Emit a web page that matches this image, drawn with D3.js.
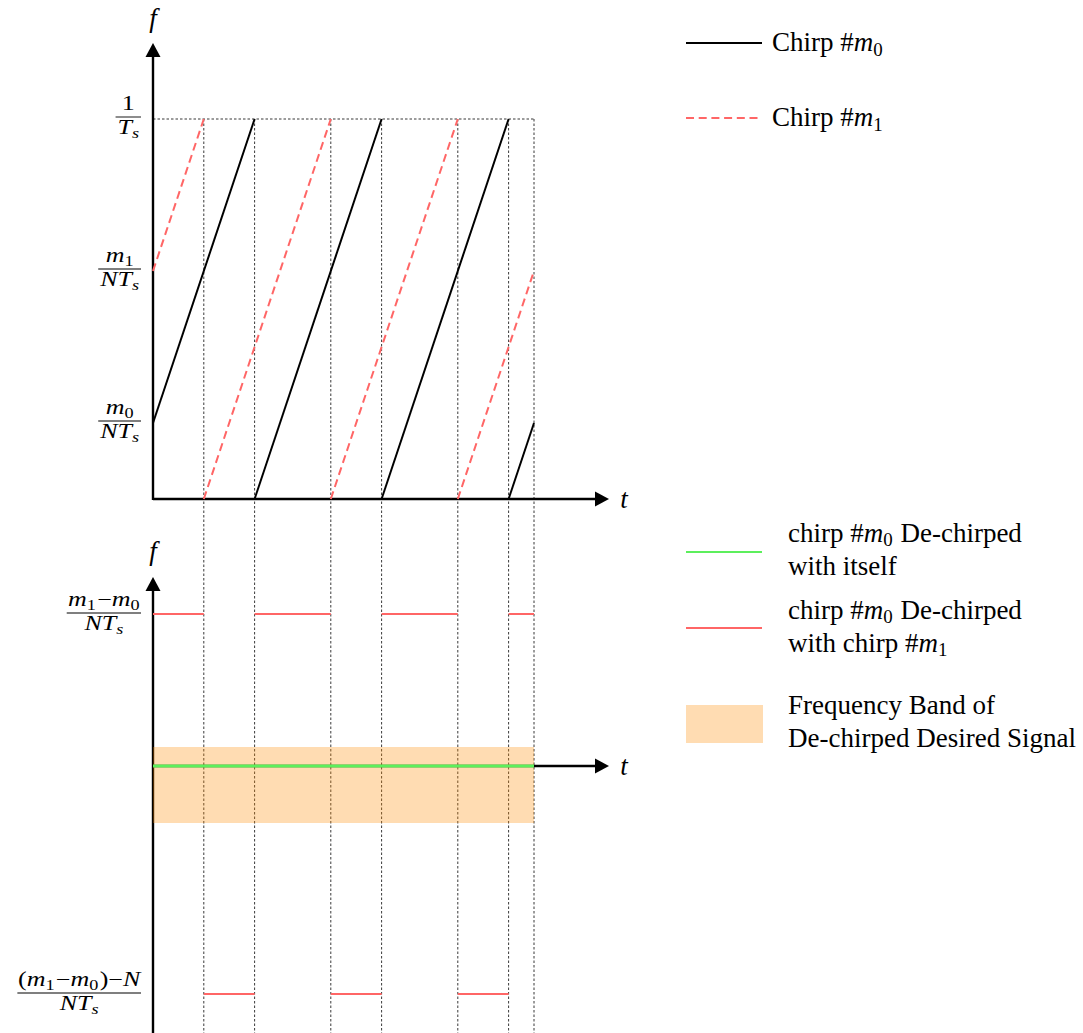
<!DOCTYPE html>
<html>
<head>
<meta charset="utf-8">
<script src="https://cdn.jsdelivr.net/npm/d3@7"></script>
<style>
  html, body { margin: 0; padding: 0; background: #fff; }
  svg { display: block; }
</style>
</head>
<body>
<svg id="chart" width="1083" height="1033"></svg>
<script>
// ---------------- DATA ----------------
// time in chirp periods, frequency normalised to 1/Ts
const tDomain = [0, 3];
const chirpM0Segments = [
  [[0, 0.2], [0.8, 1]],
  [[0.8, 0], [1.8, 1]],
  [[1.8, 0], [2.8, 1]],
  [[2.8, 0], [3, 0.2]]
];
const chirpM1Segments = [
  [[0, 0.6], [0.4, 1]],
  [[0.4, 0], [1.4, 1]],
  [[1.4, 0], [2.4, 1]],
  [[2.4, 0], [3, 0.6]]
];
const boundaryTimes = [0.4, 0.8, 1.4, 1.8, 2.4, 2.8, 3];
const dechirpSelf = [[0, 0], [3, 0]];
const dechirpCrossHigh = [[0, 0.4], [0.8, 1.4], [1.8, 2.4], [2.8, 3]]; // f = (m1-m0)/N
const dechirpCrossLow  = [[0.4, 0.8], [1.4, 1.8], [2.4, 2.8]];          // f = ((m1-m0)-N)/N
const crossHighValue = 0.4;
const crossLowValue = -0.6;
const bandRange = [-0.15, 0.05];

const topTicks = [
  { v: 1,   num: [{t: "1"}], den: [{t: "T", i: true}, {t: "s", i: true, sub: true}] },
  { v: 0.6, num: [{t: "m", i: true}, {t: "1", sub: true}], den: [{t: "NT", i: true}, {t: "s", i: true, sub: true}] },
  { v: 0.2, num: [{t: "m", i: true}, {t: "0", sub: true}], den: [{t: "NT", i: true}, {t: "s", i: true, sub: true}] }
];
const bottomTicks = [
  { v: 0.4, num: [{t: "m", i: true}, {t: "1", sub: true}, {t: "−"}, {t: "m", i: true}, {t: "0", sub: true}],
            den: [{t: "NT", i: true}, {t: "s", i: true, sub: true}] },
  { v: -0.6, num: [{t: "("}, {t: "m", i: true}, {t: "1", sub: true}, {t: "−"}, {t: "m", i: true}, {t: "0", sub: true}, {t: ")−"}, {t: "N", i: true}],
            den: [{t: "NT", i: true}, {t: "s", i: true, sub: true}] }
];
const legendTop = [
  { type: "solid",  lines: [[{t: "Chirp #"}, {t: "m", i: true}, {t: "0", sub: true}]] },
  { type: "dashed", lines: [[{t: "Chirp #"}, {t: "m", i: true}, {t: "1", sub: true}]] }
];
const legendBottom = [
  { type: "green", lines: [[{t: "chirp #"}, {t: "m", i: true}, {t: "0", sub: true}, {t: " De-chirped"}], [{t: "with itself"}]] },
  { type: "red",   lines: [[{t: "chirp #"}, {t: "m", i: true}, {t: "0", sub: true}, {t: " De-chirped"}], [{t: "with chirp #"}, {t: "m", i: true}, {t: "1", sub: true}]] },
  { type: "band",  lines: [[{t: "Frequency Band of"}], [{t: "De-chirped Desired Signal"}]] }
];

// ---------------- STYLE ----------------
const SERIF = "'Liberation Serif', 'Times New Roman', serif";
const RED = "#ff6666";
const GREEN = "#5cef5c";
const BAND = "rgb(255,140,0)";

const svg = d3.select("#chart");

const x = d3.scaleLinear().domain(tDomain).range([153, 534]);
const yTop = d3.scaleLinear().domain([0, 1]).range([499, 119]);
const yBot = d3.scaleLinear().domain([-0.6, 0.4]).range([994, 614]);

// multi-line rich text in a single <text> element
function richLines(g, xx, yy, lines, fs, anchor, subDrop, lineGap) {
  const t = g.append("text")
    .attr("x", xx).attr("y", yy)
    .attr("font-family", SERIF)
    .attr("font-size", fs)
    .attr("text-anchor", anchor || "start")
    .attr("fill", "#000");
  let shift = 0;
  const drop = subDrop == null ? 0.2 : subDrop;
  lines.forEach((parts, li) => {
    let prevSub = false;
    parts.forEach((p, pi) => {
      const ts = t.append("tspan").text(p.t);
      if (p.i) ts.attr("font-style", "italic");
      const target = p.sub ? fs * drop : 0;
      let dy = target - shift;
      if (li > 0 && pi === 0) { ts.attr("x", xx); dy += lineGap; }
      if (dy !== 0) ts.attr("dy", dy);
      shift = target;
      if (p.sub) ts.attr("font-size", fs * 0.7);
      if (prevSub && !p.sub) ts.attr("dx", 1);
      prevSub = !!p.sub;
    });
  });
  return t;
}
function rich(g, xx, yy, parts, fs, anchor, subDrop) {
  return richLines(g, xx, yy, [parts], fs, anchor, subDrop, 0);
}

// fraction drawn in a group stretched horizontally (math glyphs are wider than Times)
function fraction(g, rightX, barY, num, den, fs, sx) {
  const fg = g.append("g").attr("transform", `translate(${rightX},0) scale(${sx},1)`);
  const n = rich(fg, 0, barY - 7, num, fs, "middle", 0.2);
  const d = rich(fg, 0, barY + 17, den, fs, "middle", 0.22);
  const w = Math.max(n.node().getComputedTextLength(), d.node().getComputedTextLength()) + 3;
  const cx = -w / 2;
  n.attr("x", cx);
  d.attr("x", cx);
  fg.append("line")
    .attr("x1", -w).attr("x2", 0)
    .attr("y1", barY).attr("y2", barY)
    .attr("stroke", "#000").attr("stroke-width", 0.9);
}

function arrowHead(g, tipX, tipY, dir) {
  const L = 14, H = 7.5;
  let pts;
  if (dir === "up") pts = [[tipX, tipY], [tipX - H, tipY + L], [tipX + H, tipY + L]];
  else pts = [[tipX, tipY], [tipX - L, tipY - H], [tipX - L, tipY + H]];
  g.append("path").attr("d", d3.line()(pts) + "Z").attr("fill", "#000");
}

// ---------- guide lines (dotted) ----------
const guides = svg.append("g");
guides.selectAll("line.v").data(boundaryTimes).join("line")
  .attr("class", "v")
  .attr("x1", d => x(d)).attr("x2", d => x(d))
  .attr("y1", yTop(1)).attr("y2", 1033)
  .attr("stroke", "#222").attr("stroke-width", 0.9)
  .attr("stroke-dasharray", "2.5,2");
guides.append("line")
  .attr("x1", x(0)).attr("x2", x(3))
  .attr("y1", yTop(1)).attr("y2", yTop(1))
  .attr("stroke", "#222").attr("stroke-width", 0.9)
  .attr("stroke-dasharray", "2.5,2");

// ---------- axes ----------
const axes = svg.append("g");
// top panel
axes.append("line").attr("x1", x(0)).attr("x2", x(0)).attr("y1", yTop(0) + 1).attr("y2", 57)
  .attr("stroke", "#000").attr("stroke-width", 2.4);
arrowHead(axes, x(0), 43, "up");
axes.append("line").attr("x1", x(0)).attr("x2", 596).attr("y1", yTop(0)).attr("y2", yTop(0))
  .attr("stroke", "#000").attr("stroke-width", 2.4);
arrowHead(axes, 609, yTop(0), "right");
// bottom panel
axes.append("line").attr("x1", x(0)).attr("x2", x(0)).attr("y1", 1033).attr("y2", 591)
  .attr("stroke", "#000").attr("stroke-width", 2.4);
arrowHead(axes, x(0), 577, "up");
axes.append("line").attr("x1", x(0)).attr("x2", 596).attr("y1", yBot(0)).attr("y2", yBot(0))
  .attr("stroke", "#000").attr("stroke-width", 2.4);
arrowHead(axes, 609, yBot(0), "right");

// axis labels
rich(axes, x(0), 27, [{t: "f", i: true}], 27, "middle");
rich(axes, x(0), 560, [{t: "f", i: true}], 27, "middle");
rich(axes, 624, 508, [{t: "t", i: true}], 27, "middle");
rich(axes, 624, yBot(0) + 9, [{t: "t", i: true}], 27, "middle");

// tick labels
const tl = svg.append("g");
topTicks.forEach(tk => fraction(tl, 141, yTop(tk.v) - 2, tk.num, tk.den, 20, 1.3));
bottomTicks.forEach(tk => fraction(tl, 141, yBot(tk.v) - 1, tk.num, tk.den, 20, 1.3));

// ---------- band ----------
svg.append("rect")
  .attr("x", x(0)).attr("width", x(3) - x(0))
  .attr("y", yBot(bandRange[1])).attr("height", yBot(bandRange[0]) - yBot(bandRange[1]))
  .attr("fill", BAND).attr("fill-opacity", 0.3);

// ---------- chirps ----------
const lineTop = d3.line().x(d => x(d[0])).y(d => yTop(d[1]));
svg.append("g").selectAll("path").data(chirpM1Segments).join("path")
  .attr("d", lineTop).attr("fill", "none")
  .attr("stroke", RED).attr("stroke-width", 2).attr("stroke-dasharray", "8,4.7");
svg.append("g").selectAll("path").data(chirpM0Segments).join("path")
  .attr("d", lineTop).attr("fill", "none")
  .attr("stroke", "#000").attr("stroke-width", 2);

// ---------- de-chirped ----------
const dg = svg.append("g");
dg.append("line")
  .attr("x1", x(dechirpSelf[0][0])).attr("x2", x(dechirpSelf[1][0]))
  .attr("y1", yBot(dechirpSelf[0][1])).attr("y2", yBot(dechirpSelf[1][1]))
  .attr("stroke", GREEN).attr("stroke-width", 3);
dg.selectAll("line.hi").data(dechirpCrossHigh).join("line").attr("class", "hi")
  .attr("x1", d => x(d[0])).attr("x2", d => x(d[1]))
  .attr("y1", yBot(crossHighValue)).attr("y2", yBot(crossHighValue))
  .attr("stroke", RED).attr("stroke-width", 2);
dg.selectAll("line.lo").data(dechirpCrossLow).join("line").attr("class", "lo")
  .attr("x1", d => x(d[0])).attr("x2", d => x(d[1]))
  .attr("y1", yBot(crossLowValue)).attr("y2", yBot(crossLowValue))
  .attr("stroke", RED).attr("stroke-width", 2);

// ---------- legends ----------
const lg = svg.append("g");
const LFS = 27;
// top legend
const topLegY = [43, 118];
legendTop.forEach((it, i) => {
  const y0 = topLegY[i];
  lg.append("line").attr("x1", 686).attr("x2", 762).attr("y1", y0).attr("y2", y0)
    .attr("stroke", it.type === "solid" ? "#000" : RED).attr("stroke-width", 2)
    .attr("stroke-dasharray", it.type === "dashed" ? "8,4.7" : null);
  richLines(lg, 772, y0 + 8, it.lines, LFS, "start", 0.18, 31);
});
// bottom legend
const botLeg = [
  { sym: 552, base: 542 },
  { sym: 628, base: 619 },
  { sym: 724, base: 714 }
];
legendBottom.forEach((it, i) => {
  const L = botLeg[i];
  if (it.type === "band") {
    lg.append("rect").attr("x", 686).attr("y", 705).attr("width", 77).attr("height", 38)
      .attr("fill", BAND).attr("fill-opacity", 0.3);
  } else {
    lg.append("line").attr("x1", 686).attr("x2", 762).attr("y1", L.sym).attr("y2", L.sym)
      .attr("stroke", it.type === "green" ? GREEN : RED).attr("stroke-width", 2);
  }
  richLines(lg, 788, L.base, it.lines, LFS, "start", 0.15, 33);
});
</script>
</body>
</html>
